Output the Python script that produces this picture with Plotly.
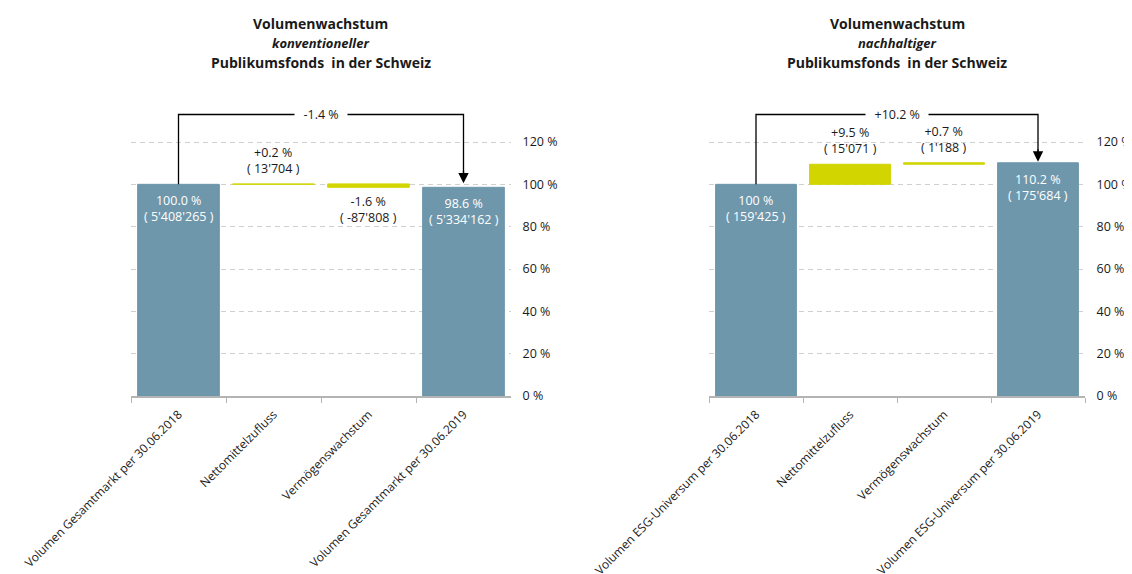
import plotly.graph_objects as go

# ---------------- data ----------------
left_title = ["Volumenwachstum", "konventioneller", "Publikumsfonds  in der Schweiz"]
left_categories = ["Volumen Gesamtmarkt per 30.06.2018", "Nettomittelzufluss",
                   "Vermögenswachstum", "Volumen Gesamtmarkt per 30.06.2019"]
left_pct = [100.0, 0.2, -1.6, 98.6]
left_volume = [5408265, 13704, -87808, 5334162]
left_pct_labels = ["100.0 %", "+0.2 %", "-1.6 %", "98.6 %"]
left_change_label = "-1.4 %"

right_title = ["Volumenwachstum", "nachhaltiger", "Publikumsfonds  in der Schweiz"]
right_categories = ["Volumen ESG-Universum per 30.06.2018", "Nettomittelzufluss",
                    "Vermögenswachstum", "Volumen ESG-Universum per 30.06.2019"]
right_pct = [100.0, 9.5, 0.7, 110.2]
right_volume = [159425, 15071, 1188, 175684]
right_pct_labels = ["100 %", "+9.5 %", "+0.7 %", "110.2 %"]
right_change_label = "+10.2 %"

kinds = ["total", "delta", "delta", "total"]
y_tickvals = [0, 20, 40, 60, 80, 100, 120]
y_ticktext = ["0 %", "20 %", "40 %", "60 %", "80 %", "100 %", "120 %"]

# ---------------- style ----------------
OFF = 8                      # default page margin of the html body
W, H = 1124, 566
M_T = 100 - OFF
M_B = H - (396 - OFF)
PLOT_H = H - M_T - M_B
BLUE = "#6E97AC"
YELLOW = "#D2D500"
TEXT = "#1A1A1A"
GRID = "#D0D0D0"
AXIS = "#B4B4B4"
FONT = "Open Sans"
Y_MAX = 139.85
BRACKET_Y = 133

domains = {"left": [(131 - OFF) / W, (511 - OFF) / W],
           "right": [(709 - OFF) / W, (1085 - OFF) / W]}


def fmt_vol(v):
    return "( " + f"{v:,}".replace(",", "'") + " )"


fig = go.Figure()
annotations = []


def add_chart(idx, cats, pct, vol, pct_labels, change_label, title, dom):
    xa = "x" if idx == 1 else "x2"
    ya = "y" if idx == 1 else "y2"
    bases, heights, colors = [], [], []
    running = 0.0
    for k, v in zip(kinds, pct):
        if k == "total":
            bases.append(0)
            heights.append(v)
            colors.append(BLUE)
            running = v
        else:
            bases.append(running)
            heights.append(v)
            colors.append(YELLOW)
            running = running + v
    fig.add_trace(go.Bar(
        x=cats, y=heights, base=bases, width=0.86,
        marker=dict(color=colors, line=dict(color=colors, width=1)),
        xaxis=xa, yaxis=ya, showlegend=False, hoverinfo="skip",
    ))
    # value labels
    for c, k, b, h, pl, v in zip(cats, kinds, bases, heights, pct_labels, vol):
        txt = pl + "<br>" + fmt_vol(v)
        top = max(b, b + h)
        bot = min(b, b + h)
        if k == "total":
            annotations.append(dict(x=c, y=top, xref=xa, yref=ya, text=txt, showarrow=False,
                                    yanchor="top", yshift=-6,
                                    font=dict(family=FONT, size=12.5, color="white")))
        elif h >= 0:
            annotations.append(dict(x=c, y=top, xref=xa, yref=ya, text=txt, showarrow=False,
                                    yanchor="bottom", yshift=5,
                                    font=dict(family=FONT, size=12.5, color=TEXT)))
        else:
            annotations.append(dict(x=c, y=bot, xref=xa, yref=ya, text=txt, showarrow=False,
                                    yanchor="top", yshift=-4,
                                    font=dict(family=FONT, size=12.5, color=TEXT)))
    # bracket
    tip = max(pct[0], pct[-1]) + 0.5
    fig.add_trace(go.Scatter(
        x=[cats[0], cats[0], cats[-1], cats[-1]],
        y=[pct[0], BRACKET_Y, BRACKET_Y, tip + 4],
        mode="lines", line=dict(color="black", width=1.3),
        xaxis=xa, yaxis=ya, showlegend=False, hoverinfo="skip",
    ))
    annotations.append(dict(x=cats[-1], y=tip, xref=xa, yref=ya, text="", showarrow=True,
                            ax=0, ay=-14, arrowhead=2, arrowsize=1.6, arrowwidth=1.3,
                            arrowcolor="black"))
    annotations.append(dict(x=1.5, y=BRACKET_Y, xref=xa, yref=ya,
                            text="\u00a0\u00a0" + change_label + "\u00a0\u00a0",
                            showarrow=False, bgcolor="white", borderpad=2,
                            font=dict(family=FONT, size=12.5, color=TEXT)))
    # title
    cx = (dom[0] + dom[1]) / 2
    for i, (line, py) in enumerate(zip(title, [23, 43, 62])):
        if i == 1:
            t = "<b><i>" + line + "</i></b>"
            fnt = dict(family=FONT, size=13, color=TEXT)
        else:
            t = "<b>" + line + "</b>"
            fnt = dict(family=FONT, size=14, color=TEXT)
        annotations.append(dict(x=cx, y=(H - M_B - (py - OFF)) / PLOT_H,
                                xref="paper", yref="paper",
                                text=t, showarrow=False, yanchor="middle", xanchor="center",
                                font=fnt))


add_chart(1, left_categories, left_pct, left_volume, left_pct_labels, left_change_label,
          left_title, domains["left"])
add_chart(2, right_categories, right_pct, right_volume, right_pct_labels, right_change_label,
          right_title, domains["right"])

xcommon = dict(type="category", showline=True, linecolor=AXIS, linewidth=1.5,
               ticks="outside", tickson="boundaries", ticklen=5, tickcolor=AXIS,
               tickwidth=1, tickangle=-45, showgrid=False, zeroline=False,
               ticklabelstandoff=5,
               tickfont=dict(family=FONT, size=12, color=TEXT), automargin=False)
ycommon = dict(range=[0, Y_MAX], side="right", tickvals=y_tickvals, ticktext=y_ticktext,
               showgrid=True, gridcolor=GRID, gridwidth=1, griddash="5px,4px",
               zeroline=False, showline=False, ticks="outside", ticklen=8,
               tickcolor="rgba(0,0,0,0)", automargin=False,
               tickfont=dict(family=FONT, size=12.5, color=TEXT))

fig.update_layout(
    width=W, height=H,
    margin=dict(l=0, r=0, t=M_T, b=M_B, autoexpand=False),
    paper_bgcolor="white", plot_bgcolor="white",
    xaxis=dict(domain=domains["left"], anchor="y", **xcommon),
    yaxis=dict(anchor="x", **ycommon),
    xaxis2=dict(domain=domains["right"], anchor="y2", **xcommon),
    yaxis2=dict(anchor="x2", **ycommon),
    annotations=annotations,
    barmode="overlay",
    font=dict(family=FONT, color=TEXT),
)

fig.write_html("out.html")
